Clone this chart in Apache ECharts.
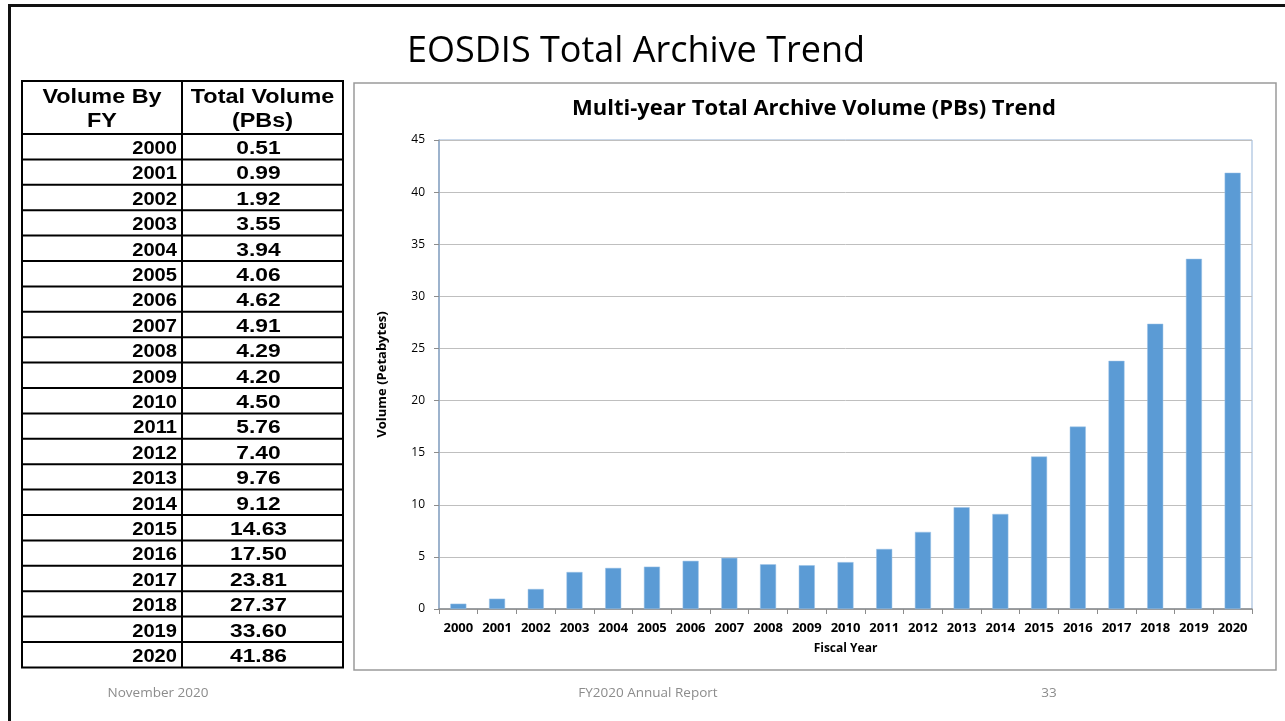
<!DOCTYPE html>
<html>
<head>
<meta charset="utf-8">
<title>EOSDIS Total Archive Trend</title>
<script src="https://cdn.jsdelivr.net/npm/echarts@6/dist/echarts.min.js"></script>
<style>
  html, body { margin: 0; padding: 0; background: #fff; }
  #box { width: 1285px; height: 721px; }
</style>
</head>
<body>
<div id="box"></div>
<script>
// data
const years = ['2000', '2001', '2002', '2003', '2004', '2005', '2006', '2007', '2008', '2009', '2010',
  '2011', '2012', '2013', '2014', '2015', '2016', '2017', '2018', '2019', '2020'];
const volumes = [0.51, 0.99, 1.92, 3.55, 3.94, 4.06, 4.62, 4.91, 4.29, 4.20, 4.50,
  5.76, 7.40, 9.76, 9.12, 14.63, 17.50, 23.81, 27.37, 33.60, 41.86];
const tableHeaders = ['Volume By\nFY', 'Total Volume\n(PBs)'];
const footerTexts = ['November 2020', 'FY2020 Annual Report', '33'];

const chartDom = document.getElementById('box');
const myChart = echarts.init(chartDom, null, { renderer: 'canvas' });

// table on the left, built from the arrays
const tbl = { left: 22, right: 343, split: 182, top: 81, headH: 53, rowH: 25.4 };
const tableEls = [];
const tblBottom = tbl.top + tbl.headH + tbl.rowH * years.length;
tableEls.push({
  type: 'rect', shape: { x: tbl.left, y: tbl.top, width: tbl.right - tbl.left, height: tblBottom - tbl.top },
  style: { fill: 'none', stroke: '#000', lineWidth: 2 }
});
tableEls.push({
  type: 'line', shape: { x1: tbl.split, y1: tbl.top, x2: tbl.split, y2: tblBottom },
  style: { stroke: '#000', lineWidth: 2 }
});
tableHeaders.forEach((h, i) => {
  tableEls.push({
    type: 'text',
    x: i === 0 ? (tbl.left + tbl.split) / 2 : (tbl.split + tbl.right) / 2,
    y: tbl.top + tbl.headH / 2 + 2,
    scaleX: 1.17,
    style: {
      text: h, align: 'center', verticalAlign: 'middle', lineHeight: 24,
      font: 'bold 20px "Liberation Sans", Arial, sans-serif', fill: '#000'
    }
  });
});
years.forEach((y, i) => {
  const rowTop = tbl.top + tbl.headH + i * tbl.rowH;
  tableEls.push({
    type: 'line', shape: { x1: tbl.left, y1: rowTop, x2: tbl.right, y2: rowTop },
    style: { stroke: '#000', lineWidth: 2 }
  });
  tableEls.push({
    type: 'text', x: tbl.split - 5, y: rowTop + tbl.rowH / 2 + 2, scaleX: 1.06,
    style: { text: y, align: 'right', verticalAlign: 'middle', font: 'bold 19px "Liberation Sans", Arial, sans-serif', fill: '#000' }
  });
  tableEls.push({
    type: 'text', x: (tbl.split + tbl.right) / 2 - 4, y: rowTop + tbl.rowH / 2 + 2, scaleX: 1.2,
    style: { text: volumes[i].toFixed(2), align: 'center', verticalAlign: 'middle', font: 'bold 19px "Liberation Sans", Arial, sans-serif', fill: '#000' }
  });
});

const footerX = [158, 648, 1049];
const footerEls = footerTexts.map((t, i) => ({
  type: 'text', x: footerX[i], y: 693,
  style: { text: t, align: 'center', verticalAlign: 'middle', font: '13.5px "Open Sans", sans-serif', fill: '#8c8c8c' }
}));

var option = {
  backgroundColor: '#fff',
  animation: false,
  title: [
    {
      text: 'EOSDIS Total Archive Trend',
      left: 631, top: 29, textAlign: 'center',
      textStyle: { fontFamily: 'Open Sans', fontWeight: 'normal', fontSize: 36, color: '#000' }
    },
    {
      text: 'Multi-year Total Archive Volume (PBs) Trend',
      left: 809, top: 93, textAlign: 'center',
      textStyle: { fontFamily: 'Open Sans', fontWeight: 'bold', fontSize: 22, color: '#000' }
    }
  ],
  grid: {
    left: 439, right: 33, top: 140, bottom: 112,
    show: true, borderColor: '#95b3d7', borderWidth: 1, backgroundColor: 'transparent'
  },
  graphic: [
    {
      type: 'rect', z: -10, shape: { x: 9.5, y: 5.5, width: 1300, height: 730 },
      style: { fill: 'none', stroke: '#111', lineWidth: 3 }
    },
    {
      type: 'rect', z: -10, shape: { x: 354, y: 83, width: 922, height: 587 },
      style: { fill: 'none', stroke: '#9a9a9a', lineWidth: 1.5 }
    },
    ...tableEls,
    ...footerEls
  ],
  xAxis: {
    type: 'category',
    data: years,
    name: 'Fiscal Year',
    nameLocation: 'middle',
    nameGap: 34,
    nameTextStyle: { fontFamily: 'Open Sans', fontWeight: 'bold', fontSize: 12, color: '#000' },
    axisLine: { lineStyle: { color: '#8c8c8c', width: 1.5 } },
    axisTick: { show: true, length: 5, lineStyle: { color: '#8c8c8c' } },
    axisLabel: { margin: 13, fontFamily: 'Open Sans', fontWeight: 'bold', fontSize: 13, color: '#000' }
  },
  yAxis: {
    type: 'value',
    min: 0, max: 45, interval: 5,
    name: 'Volume (Petabytes)',
    nameLocation: 'middle',
    nameGap: 50,
    nameRotate: 90,
    nameTextStyle: { fontFamily: 'Open Sans', fontWeight: 'bold', fontSize: 13, color: '#000' },
    axisLine: { show: true, lineStyle: { color: '#8ea6c3', width: 1.5 } },
    axisTick: { show: true, length: 5, lineStyle: { color: '#8c8c8c' } },
    axisLabel: { margin: 14, fontFamily: 'Open Sans', fontSize: 12, color: '#000' },
    splitLine: { lineStyle: { color: '#bfbfbf', width: 1 } }
  },
  series: [
    {
      name: 'Total Volume',
      type: 'bar',
      data: volumes,
      barWidth: 16,
      itemStyle: { color: '#5b9bd5', borderColor: '#9dc3e6', borderWidth: 0.5 }
    }
  ]
};
option && myChart.setOption(option);
window.addEventListener('resize', function () {
  if (myChart) {
    myChart.resize();
  }
});
</script>
</body>
</html>
